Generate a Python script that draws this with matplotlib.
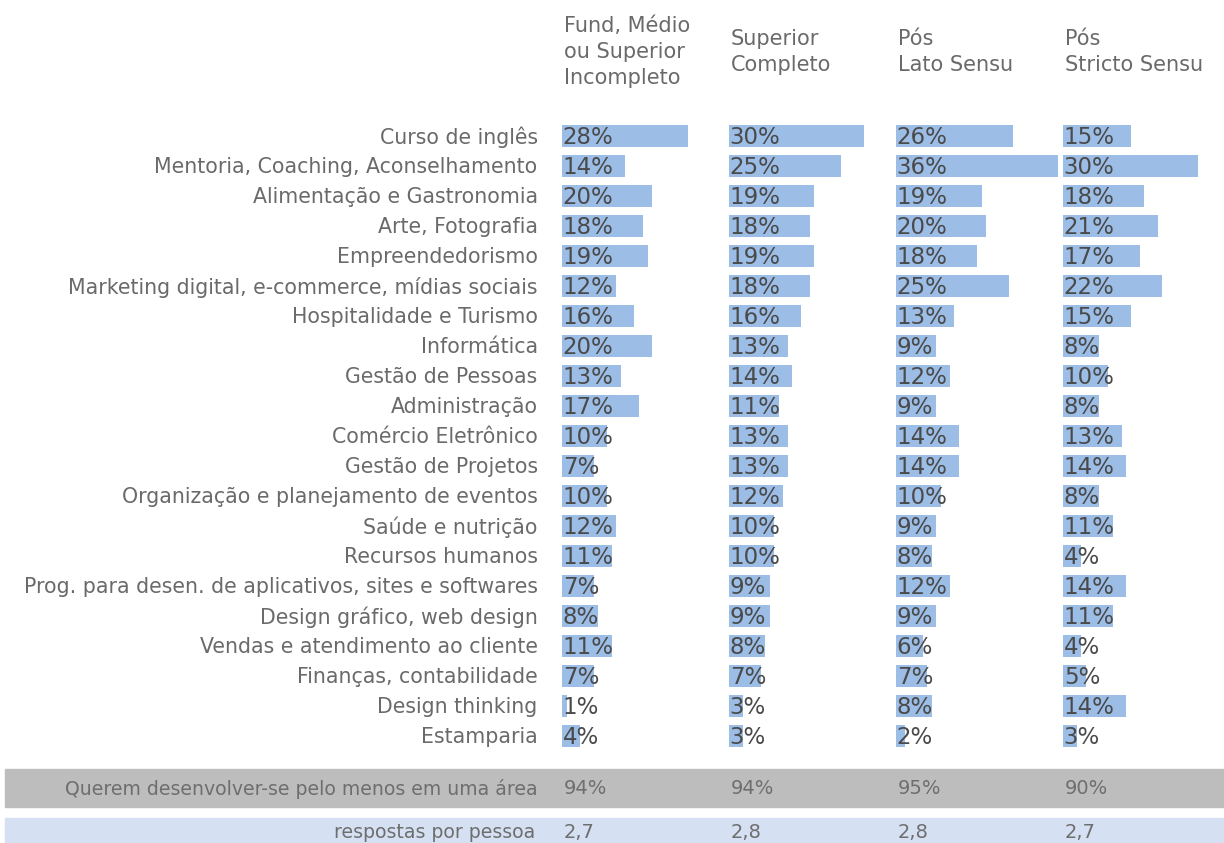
import matplotlib.pyplot as plt
from matplotlib.patches import Rectangle

plt.rcParams['font.family'] = ['DejaVu Sans']

areas = ["Curso de inglês", "Mentoria, Coaching, Aconselhamento", "Alimentação e Gastronomia",
         "Arte, Fotografia", "Empreendedorismo", "Marketing digital, e-commerce, mídias sociais",
         "Hospitalidade e Turismo", "Informática", "Gestão de Pessoas", "Administração",
         "Comércio Eletrônico", "Gestão de Projetos", "Organização e planejamento de eventos",
         "Saúde e nutrição", "Recursos humanos",
         "Prog. para desen. de aplicativos, sites e softwares", "Design gráfico, web design",
         "Vendas e atendimento ao cliente", "Finanças, contabilidade", "Design thinking",
         "Estamparia"]

grupos = ["Fund, Médio\nou Superior\nIncompleto", "Superior\nCompleto",
          "Pós\nLato Sensu", "Pós\nStricto Sensu"]

fund = [28, 14, 20, 18, 19, 12, 16, 20, 13, 17, 10, 7, 10, 12, 11, 7, 8, 11, 7, 1, 4]
superior = [30, 25, 19, 18, 19, 18, 16, 13, 14, 11, 13, 13, 12, 10, 10, 9, 9, 8, 7, 3, 3]
lato = [26, 36, 19, 20, 18, 25, 13, 9, 12, 9, 14, 14, 10, 9, 8, 12, 9, 6, 7, 8, 2]
stricto = [15, 30, 18, 21, 17, 22, 15, 8, 10, 8, 13, 14, 8, 11, 4, 14, 11, 4, 5, 14, 3]
series = [fund, superior, lato, stricto]

pelo_menos = ["94%", "94%", "95%", "90%"]
respostas = ["2,7", "2,8", "2,8", "2,7"]

W, H = 1224, 843
fig = plt.figure(figsize=(W / 100, H / 100), dpi=100)

bar_color = "#9bbde6"
label_color = "#6a6a6a"
value_color = "#4a4a4a"

col_left = 562
col_w = 167
px_per_pct = 4.5
top_px, bot_px = 121, 751

for i, vals in enumerate(series):
    ax = fig.add_axes([(col_left + i * col_w) / W, 1 - bot_px / H,
                       col_w / W, (bot_px - top_px) / H])
    ax.barh(range(len(vals)), vals, height=0.76, color=bar_color, left=0)
    for j, v in enumerate(vals):
        ax.annotate(f"{v}%", (0, j), xytext=(0.5, 1), textcoords="offset points",
                    va="center_baseline", ha="left", fontsize=16.5, color=value_color)
    ax.set_xlim(0, col_w / px_per_pct)
    ax.set_ylim(len(vals) - 0.5, -0.5)
    ax.axis("off")
    if i == 0:
        for j, a in enumerate(areas):
            ax.annotate(a, (0, j), xytext=(-17.5, 0.5), textcoords="offset points",
                        va="center_baseline", ha="right", fontsize=14.8, color=label_color)
    fig.text((col_left + 2 + i * col_w) / W, 1 - 52 / H, grupos[i], ha="left", va="center",
             fontsize=15, color=label_color, linespacing=1.37)

# faixas inferiores
fig.patches.append(Rectangle((5 / W, 1 - 807 / H), (W - 5) / W, 38 / H,
                             transform=fig.transFigure, color="#bdbdbd", zorder=0))
fig.patches.append(Rectangle((5 / W, 0), (W - 5) / W, 25 / H,
                             transform=fig.transFigure, color="#d5e1f3", zorder=0))

fig.text(538 / W, 1 - 787 / H, "Querem desenvolver-se pelo menos em uma área",
         ha="right", va="center_baseline", fontsize=13.6, color="#6e6e6e")
fig.text(535 / W, 1 - 831 / H, "respostas por pessoa",
         ha="right", va="center_baseline", fontsize=13.6, color="#6e6e6e")
for i in range(4):
    fig.text((col_left + 2 + i * col_w) / W, 1 - 787 / H, pelo_menos[i],
             ha="left", va="center_baseline", fontsize=14, color="#6e6e6e")
    fig.text((col_left + 2 + i * col_w) / W, 1 - 831 / H, respostas[i],
             ha="left", va="center_baseline", fontsize=14, color="#6e6e6e")

fig.savefig("out.png", dpi=100)
